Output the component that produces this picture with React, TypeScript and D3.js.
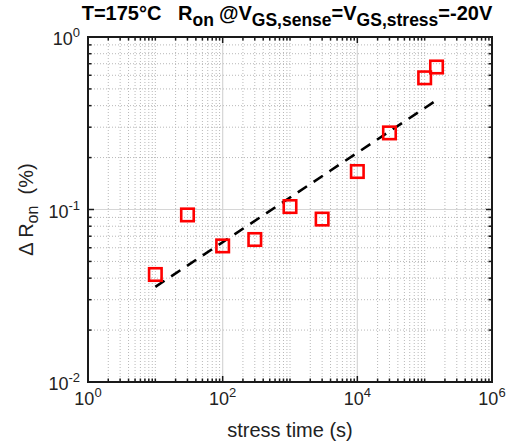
import React from "react";
import * as d3 from "d3";

const stressTime = [10, 30, 100, 300, 1000, 3000, 10000, 30000, 100000, 150000];
const deltaRon = [0.042, 0.093, 0.0615, 0.067, 0.104, 0.088, 0.166, 0.278, 0.58, 0.67];
const fitTime = [10, 150000];
const fitDeltaRon = [0.0356, 0.43];
const xTickValues = [1, 100, 10000, 1000000];
const xTickExponents = ["0", "2", "4", "6"];
const yTickValues = [0.01, 0.1, 1];
const yTickExponents = ["-2", "-1", "0"];

const W = 509;
const H = 444;
const L = 88, R = 492, T = 37, B = 382;
const FONT = "'Liberation Sans', Arial, Helvetica, sans-serif";

export default function App() {
  const x = d3.scaleLog().domain([1, 1e6]).range([L, R]);
  const y = d3.scaleLog().domain([0.01, 1]).range([B, T]);

  const xMinor: number[] = [];
  for (let e = 0; e < 6; e++) for (let m = 1; m <= 9; m++) {
    const v = m * Math.pow(10, e);
    if (!xTickValues.some((t) => Math.abs(t - v) < 1e-9)) xMinor.push(v);
  }
  const yMinor: number[] = [];
  for (let e = -2; e < 0; e++) for (let m = 1; m <= 9; m++) {
    const v = m * Math.pow(10, e);
    if (!yTickValues.some((t) => Math.abs(t - v) / v < 1e-9)) yMinor.push(v);
  }

  const line = d3.line<number>().x((_, i) => x(fitTime[i])).y((d) => y(d));
  const sq = 12.5;
  const majorLen = 6, minorLen = 3.5;

  return (
    <svg width={W} height={H} style={{ position: "absolute", left: 0, top: 0, background: "#fff" }} fontFamily={FONT}>
      <rect x={0} y={0} width={W} height={H} fill="#fff" />
      {xMinor.map((v) => (
        <line key={"xg" + v} x1={x(v)} x2={x(v)} y1={T} y2={B} stroke="#b8b8b8" strokeWidth={1} strokeDasharray="1 2" />
      ))}
      {yMinor.map((v) => (
        <line key={"yg" + v} x1={L} x2={R} y1={y(v)} y2={y(v)} stroke="#b8b8b8" strokeWidth={1} strokeDasharray="1 2" />
      ))}
      {xTickValues.map((v) => (
        <line key={"xM" + v} x1={x(v)} x2={x(v)} y1={T} y2={B} stroke="#d6d6d6" strokeWidth={1.2} />
      ))}
      {yTickValues.map((v) => (
        <line key={"yM" + v} x1={L} x2={R} y1={y(v)} y2={y(v)} stroke="#d6d6d6" strokeWidth={1.2} />
      ))}
      {xMinor.map((v) => (
        <g key={"xt" + v} stroke="#1a1a1a" strokeWidth={1.5}>
          <line x1={x(v)} x2={x(v)} y1={B} y2={B - minorLen} />
          <line x1={x(v)} x2={x(v)} y1={T} y2={T + minorLen} />
        </g>
      ))}
      {xTickValues.map((v) => (
        <g key={"xT" + v} stroke="#1a1a1a" strokeWidth={1.5}>
          <line x1={x(v)} x2={x(v)} y1={B} y2={B - majorLen} />
          <line x1={x(v)} x2={x(v)} y1={T} y2={T + majorLen} />
        </g>
      ))}
      {yMinor.map((v) => (
        <g key={"yt" + v} stroke="#1a1a1a" strokeWidth={1.5}>
          <line x1={L} x2={L + minorLen} y1={y(v)} y2={y(v)} />
          <line x1={R} x2={R - minorLen} y1={y(v)} y2={y(v)} />
        </g>
      ))}
      {yTickValues.map((v) => (
        <g key={"yT" + v} stroke="#1a1a1a" strokeWidth={1.5}>
          <line x1={L} x2={L + majorLen} y1={y(v)} y2={y(v)} />
          <line x1={R} x2={R - majorLen} y1={y(v)} y2={y(v)} />
        </g>
      ))}
      <path d={line(fitDeltaRon) || ""} fill="none" stroke="#000" strokeWidth={2.6} strokeDasharray="11 8" />
      {stressTime.map((t, i) => (
        <rect key={"p" + i} x={x(t) - sq / 2} y={y(deltaRon[i]) - sq / 2} width={sq} height={sq} fill="none" stroke="#ff0000" strokeWidth={2.6} />
      ))}
      <rect x={L} y={T} width={R - L} height={B - T} fill="none" stroke="#1a1a1a" strokeWidth={2} />
      {xTickValues.map((v, i) => (
        <text key={"xl" + v} x={x(v)} y={B + 23} textAnchor="middle" fontSize={18} fill="#222">
          10<tspan dy={-8} fontSize={13}>{xTickExponents[i]}</tspan>
        </text>
      ))}
      {yTickValues.map((v, i) => (
        <text key={"yl" + v} x={L - 8} y={y(v) + 8} textAnchor="end" fontSize={18} fill="#222">
          10<tspan dy={-8} fontSize={13}>{yTickExponents[i]}</tspan>
        </text>
      ))}
      <text x={(L + R) / 2} y={437} textAnchor="middle" fontSize={20} fill="#222">stress time (s)</text>
      <text transform={`translate(33,${(T + B) / 2}) rotate(-90)`} textAnchor="middle" fontSize={20} fill="#222">
        Δ R<tspan dy={5} fontSize={16}>on</tspan><tspan dy={-5}>{"\u00a0\u00a0(%)"}</tspan>
      </text>
      <text x={287} y={20} textAnchor="middle" fontSize={20} fontWeight="bold" fill="#000">
        T=175°C{"\u00a0\u00a0\u00a0"}R<tspan dy={6} fontSize={17.5}>on</tspan>
        <tspan dy={-6} dx={5}>@V</tspan><tspan dy={6} fontSize={17.5}>GS,sense</tspan>
        <tspan dy={-6}>=V</tspan><tspan dy={6} fontSize={17.5}>GS,stress</tspan>
        <tspan dy={-6}>=-20V</tspan>
      </text>
    </svg>
  );
}
